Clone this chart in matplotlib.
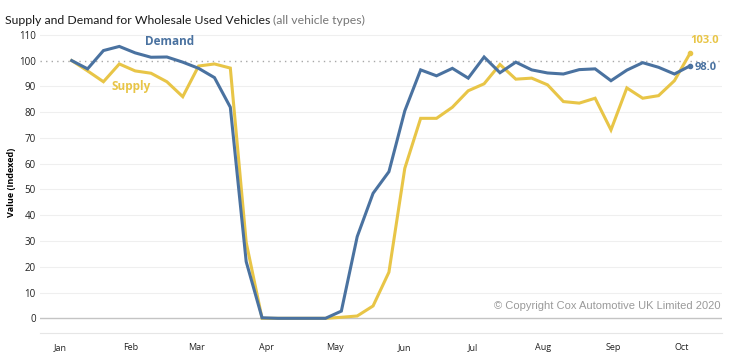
import numpy as np
import matplotlib
matplotlib.use("Agg")
import matplotlib.pyplot as plt
import matplotlib.dates as mdates

# weekly index values, weeks starting Monday 6 Jan 2020
weeks = np.arange(np.datetime64("2020-01-06"), np.datetime64("2020-10-06"), np.timedelta64(7, "D"))

demand = [100, 96.8, 103.9, 105.5, 103, 101.3, 101.4, 99.4, 97, 93.4, 81.9, 22,
          0.2, 0, 0, 0, 0, 2.8, 31.7, 48.5, 56.9, 80.5,
          96.4, 94.1, 97, 93.2, 101.4, 95.3, 99.4, 96.4,
          95.2, 94.8, 96.5, 96.8, 92.2, 96.3, 99.2, 97.4, 94.8, 98.0]
supply = [100, 96, 91.8, 98.7, 96, 95.1, 91.8, 86, 97.9, 98.7, 97.1, 29.5,
          0, 0, 0, 0, 0, 0.4, 0.9, 4.8, 17.9, 58.2,
          77.6, 77.6, 81.9, 88.3, 91, 98.5, 92.8, 93.2,
          90.6, 84.1, 83.5, 85.4, 73.1, 89.4, 85.4, 86.4, 92.2, 103.0]

blue = "#4a72a0"
yellow = "#e8c547"
font = "Open Sans"

fig = plt.figure(figsize=(7.3, 3.6), dpi=100)
ax = fig.add_axes([40/730, 1-333/360, 682/730, 301/360])

ax.plot(weeks, supply, color=yellow, lw=2.2, solid_joinstyle="miter", zorder=3)
ax.plot(weeks, demand, color=blue, lw=2.2, solid_joinstyle="miter", zorder=4)
ax.plot(weeks[-1], supply[-1], "o", color=yellow, ms=3, zorder=5)
ax.plot(weeks[-1], demand[-1], "o", color=blue, ms=3, zorder=5)

ax.annotate(f"{supply[-1]:.1f}", (weeks[-1], supply[-1]), xytext=(0, 5), textcoords="offset points",
            ha="left", va="bottom", color=yellow, fontsize=8, fontfamily=font, fontweight="bold")
ax.annotate(f"{demand[-1]:.1f}", (weeks[-1], demand[-1]), xytext=(3, -1), textcoords="offset points",
            ha="left", va="center", color=blue, fontsize=8, fontfamily=font, fontweight="bold")

ax.text(np.datetime64("2020-02-18"), 107.3, "Demand", color=blue, fontsize=8.5,
        fontfamily=font, fontweight="bold", va="center", ha="center")
ax.text(np.datetime64("2020-02-01"), 89.8, "Supply", color=yellow, fontsize=8.5,
        fontfamily=font, fontweight="bold", va="center", ha="center")

ax.set_xlim(np.datetime64("2019-12-23"), np.datetime64("2020-10-19"))
ax.set_ylim(-5.7, 111.1)
ax.set_yticks(range(0, 111, 10))
ax.xaxis.set_major_locator(mdates.MonthLocator())
ax.xaxis.set_major_formatter(mdates.DateFormatter("%b"))

for v in range(10, 111, 10):
    if v != 100:
        ax.axhline(v, color="#efefef", lw=0.8, zorder=1)
ax.axhline(100, color="#a8a8a8", lw=1, ls=(0, (1, 3)), zorder=2)
ax.axhline(0, color="#c4c4c4", lw=1, zorder=2)

for s in ["top", "right", "left"]:
    ax.spines[s].set_visible(False)
ax.spines["bottom"].set_color("#e6e6e6")
ax.tick_params(length=0)
ax.tick_params(axis="y", pad=3, labelsize=7, labelcolor="#222222")
ax.tick_params(axis="x", pad=7, labelsize=6.5, labelcolor="#222222")
for lab in ax.get_xticklabels() + ax.get_yticklabels():
    lab.set_fontfamily(font)

ax.set_ylabel("Value (Indexed)", fontsize=6.5, fontweight="bold", fontfamily=font, labelpad=2)

ax.text(0.998, 0.09, "\u00a9 Copyright Cox Automotive UK Limited 2020", transform=ax.transAxes,
        ha="right", va="center", fontsize=8, color="#9a9a9a", fontfamily="Liberation Sans")

t1 = fig.text(5/730, 1-20/360, "Supply and Demand for Wholesale Used Vehicles", fontsize=8.8,
              fontfamily="Lato", color="#1a1a1a", va="center")
fig.canvas.draw()
bb = t1.get_window_extent()
fig.text(bb.x1/730 + 3/730, 1-20/360, "(all vehicle types)", fontsize=8.8,
         fontfamily="Lato", color="#777777", va="center")

fig.savefig("out.png", dpi=100)
